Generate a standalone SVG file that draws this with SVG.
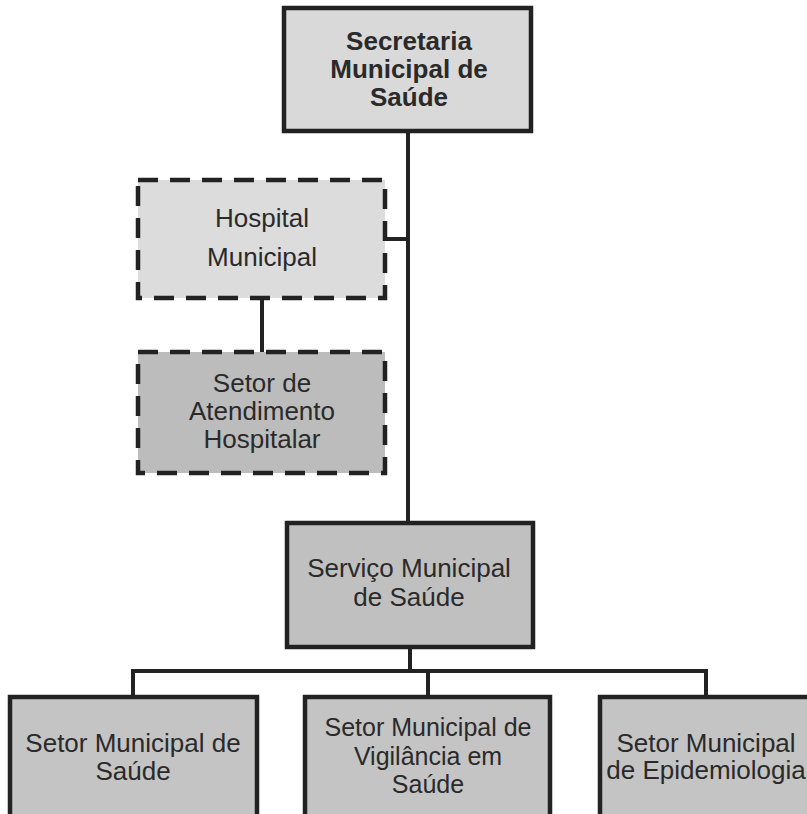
<svg xmlns="http://www.w3.org/2000/svg" width="807" height="814" viewBox="0 0 807 814">
<style>
.box{stroke:#222;stroke-width:4.5}
.dash{stroke-dasharray:20 12}
.conn{stroke:#222;stroke-width:4;fill:none}
text{font-family:"Liberation Sans",Arial,sans-serif;font-size:26px;fill:#2a2a2a;text-anchor:middle}
.b{font-weight:bold}
.s{font-size:25px}
</style>
<rect width="807" height="814" fill="#ffffff"/>
<g id="connectors">
<line class="conn" x1="408" y1="131" x2="408" y2="523"/>
<line class="conn" x1="385" y1="239" x2="408" y2="239"/>
<line class="conn" x1="262" y1="298" x2="262" y2="352"/>
<line class="conn" x1="410" y1="647" x2="410" y2="671"/>
<line class="conn" x1="131" y1="671" x2="708" y2="671"/>
<line class="conn" x1="133" y1="671" x2="133" y2="697"/>
<line class="conn" x1="428" y1="671" x2="428" y2="697"/>
<line class="conn" x1="706" y1="671" x2="706" y2="697"/>
</g>
<g id="secretaria">
<rect class="box" x="284" y="8" width="247" height="123" fill="#d9d9d9"/>
<text class="b" x="409" y="50">Secretaria</text>
<text class="b" x="409" y="78">Municipal de</text>
<text class="b" x="409" y="106">Saúde</text>
</g>
<g id="hospital">
<rect class="box dash" x="138" y="180" width="247" height="118" fill="#dcdcdc"/>
<text x="262" y="227">Hospital</text>
<text x="262" y="266">Municipal</text>
</g>
<g id="setor-atendimento">
<rect class="box dash" x="138" y="352" width="247" height="121" fill="#bcbcbc"/>
<text x="262" y="392">Setor de</text>
<text x="262" y="420">Atendimento</text>
<text x="262" y="448">Hospitalar</text>
</g>
<g id="servico">
<rect class="box" x="287" y="523" width="246" height="124" fill="#c0c0c0"/>
<text x="409" y="577">Serviço Municipal</text>
<text x="409" y="606">de Saúde</text>
</g>
<g id="setor-saude">
<rect class="box" x="10" y="697" width="247" height="140" fill="#c4c4c4"/>
<text x="133" y="752">Setor Municipal de</text>
<text x="133" y="780">Saúde</text>
</g>
<g id="setor-vigilancia">
<rect class="box" x="305" y="697" width="245" height="140" fill="#c4c4c4"/>
<text class="s" x="428" y="736">Setor Municipal de</text>
<text class="s" x="428" y="765">Vigilância em</text>
<text class="s" x="428" y="793">Saúde</text>
</g>
<g id="setor-epidemiologia">
<rect class="box" x="600" y="697" width="240" height="140" fill="#c4c4c4"/>
<text x="706" y="752">Setor Municipal</text>
<text x="706" y="779">de Epidemiologia</text>
</g>
</svg>
